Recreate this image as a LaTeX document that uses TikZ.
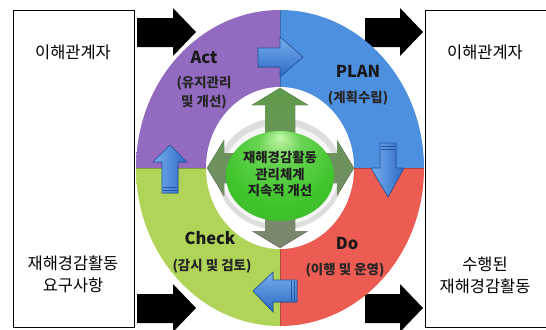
\documentclass[tikz,border=0pt]{standalone}
\usepackage{fontspec}
\setmainfont{Noto Sans CJK KR}
\definecolor{purpleL}{RGB}{146,106,192}
\definecolor{purpleM}{RGB}{126,88,174}
\definecolor{purpleD}{RGB}{92,58,138}
\definecolor{blueL}{RGB}{78,144,224}
\definecolor{blueM}{RGB}{58,122,208}
\definecolor{blueD}{RGB}{36,86,166}
\definecolor{redL}{RGB}{236,92,82}
\definecolor{redM}{RGB}{220,62,56}
\definecolor{redD}{RGB}{168,36,36}
\definecolor{greenL}{RGB}{176,212,88}
\definecolor{greenM}{RGB}{152,196,66}
\definecolor{greenD}{RGB}{106,150,40}
\definecolor{arrT}{RGB}{118,176,236}
\definecolor{arrB}{RGB}{44,104,196}
\definecolor{arrE}{RGB}{36,84,160}
\definecolor{crossT}{RGB}{96,156,74}
\definecolor{crossB}{RGB}{124,134,114}
\definecolor{sphH}{RGB}{196,246,170}
\definecolor{sphM}{RGB}{64,196,44}
\definecolor{sphD}{RGB}{26,120,22}
\pgfdeclareradialshading{purpleshade}{\pgfpoint{0bp}{0bp}}{color(0bp)=(purpleL); color(25bp)=(purpleL); color(40bp)=(purpleM); color(48bp)=(purpleM); color(50bp)=(purpleD)}
\pgfdeclareradialshading{blueshade}{\pgfpoint{0bp}{0bp}}{color(0bp)=(blueL); color(25bp)=(blueL); color(40bp)=(blueM); color(48bp)=(blueM); color(50bp)=(blueD)}
\pgfdeclareradialshading{redshade}{\pgfpoint{0bp}{0bp}}{color(0bp)=(redL); color(25bp)=(redL); color(40bp)=(redM); color(48bp)=(redM); color(50bp)=(redD)}
\pgfdeclareradialshading{greenshade}{\pgfpoint{0bp}{0bp}}{color(0bp)=(greenL); color(25bp)=(greenL); color(40bp)=(greenM); color(48bp)=(greenM); color(50bp)=(greenD)}
\pgfdeclareradialshading{sphereshade}{\pgfpoint{0bp}{22bp}}{color(0bp)=(sphH); color(10bp)=(sphM!70!sphH); color(26bp)=(sphM); color(44bp)=(sphM!80!sphD); color(50bp)=(sphD)}
\tikzset{
  sidebox/.style={draw=black, line width=1.3bp, minimum width=121bp, minimum height=317bp, anchor=north west, inner sep=0pt},
  boxtext/.style={font=\fontsize{16.5}{22}\selectfont, align=center, inner sep=0pt},
  phase/.style={font=\fontsize{16.5}{18}\selectfont\bfseries, text=black!90, inner sep=0pt},
  phasesub/.style={font=\fontsize{13.5}{19}\selectfont\bfseries, text=black!85, align=center, inner sep=0pt},
  centertext/.style={font=\fontsize{13.4}{17}\selectfont\bfseries, text=black!88, align=center, inner sep=0pt},
  blockarrow/.style={fill=black},
  bluearr/.style={top color=arrT, bottom color=arrB, draw=arrE, line width=0.6bp},
  bluearrh/.style={left color=arrT, right color=arrB, draw=arrE, line width=0.6bp},
}
\begin{document}
\begin{tikzpicture}[x=1bp,y=-1bp]
\useasboundingbox (0,0) rectangle (546,329);
% side boxes
\node[sidebox] (lbox) at (13,10) {};
\node[sidebox] (rbox) at (425,10) {};
\node[boxtext] (l1) at (73,52) {이해관계자};
\node[boxtext] (l2) at (73,274) {재해경감활동\\요구사항};
\node[boxtext] (r1) at (485,52) {이해관계자};
\node[boxtext] (r2) at (485,275) {수행된\\재해경감활동};
% black block arrows
\fill[blockarrow] (137,18) -- (173,18) -- (173,8) -- (196,32) -- (173,56) -- (173,47) -- (137,47) -- cycle;
\fill[blockarrow] (365,18) -- (400,18) -- (400,8) -- (423,32) -- (400,56) -- (400,47) -- (365,47) -- cycle;
\fill[blockarrow] (137,294) -- (173,294) -- (173,284) -- (196,308) -- (173,332) -- (173,323) -- (137,323) -- cycle;
\fill[blockarrow] (365,294) -- (400,294) -- (400,284) -- (423,308) -- (400,332) -- (400,323) -- (365,323) -- cycle;
% ring
\coordinate (c) at (280,168);
\begin{scope}\clip (130,0) rectangle (280,168);
  \shade[shading=purpleshade] (c) ellipse (144 and 158);\end{scope}
\begin{scope}\clip (280,0) rectangle (430,168);
  \shade[shading=blueshade] (c) ellipse (144 and 158);\end{scope}
\begin{scope}\clip (280,168) rectangle (430,329);
  \shade[shading=redshade] (c) ellipse (144 and 158);\end{scope}
\begin{scope}\clip (130,168) rectangle (280,329);
  \shade[shading=greenshade] (c) ellipse (144 and 158);\end{scope}
\draw[black, opacity=0.25, line width=0.8bp] (280,10) -- (280,326) (136,168) -- (424,168);
% inner white area
\fill[white] (c) ellipse (74 and 81);
\fill[gray!26] (280,174) ellipse (63 and 56);
\fill[gray!7] (280,175) ellipse (58 and 50);
% four-way arrow
\fill[top color=crossT, bottom color=crossB]
  (280,88) -- (308,105) -- (295,105) -- (295,153) -- (337,153) -- (337,140) -- (354,168)
  -- (337,196) -- (337,183) -- (295,183) -- (295,231) -- (308,231) -- (280,248)
  -- (252,231) -- (265,231) -- (265,183) -- (224,183) -- (224,196) -- (207,168)
  -- (224,140) -- (224,153) -- (265,153) -- (265,105) -- (252,105) -- cycle;
% sphere
\shade[shading=sphereshade] (280,176) ellipse (54 and 45);
\node[centertext] (ctext) at (280,174) {재해경감활동\\관리체계\\지속적 개선};
% blue 3D arrows
\filldraw[bluearr] (258,48) -- (280,48) -- (280,37) -- (303,57) -- (280,77) -- (280,67) -- (258,67) -- cycle;
\filldraw[bluearrh] (380,143) -- (396,143) -- (396,168) -- (404,168) -- (388,197) -- (371,168) -- (380,168) -- cycle;
\filldraw[bluearr] (297,280) -- (273,280) -- (273,272) -- (253,291) -- (273,312) -- (273,302) -- (297,302) -- cycle;
\filldraw[bluearrh] (162,193) -- (162,162) -- (153,162) -- (170,145) -- (187,162) -- (178,162) -- (178,193) -- cycle;
\draw[arrE, line width=0.8bp] (291,281) -- (291,301) (294,281) -- (294,301);
\draw[arrE, line width=0.8bp] (163,187) -- (177,187) (163,190) -- (177,190);
\draw[arrE, line width=0.8bp] (381,146) -- (395,146) (381,149) -- (395,149);
% phase labels
\node[phase] (act) at (204,57) {Act};
\node[phasesub] (actsub) at (204,93) {(유지관리\\및 개선)};
\node[phase] (plan) at (358,71) {PLAN};
\node[phasesub] (plansub) at (358,98) {(계획수립)};
\node[phase] (check) at (210,238) {Check};
\node[phasesub] (checksub) at (212,266) {(감시 및 검토)};
\node[phase] (do) at (347,243) {Do};
\node[phasesub] (dosub) at (345,270) {(이행 및 운영)};
\end{tikzpicture}
\end{document}
